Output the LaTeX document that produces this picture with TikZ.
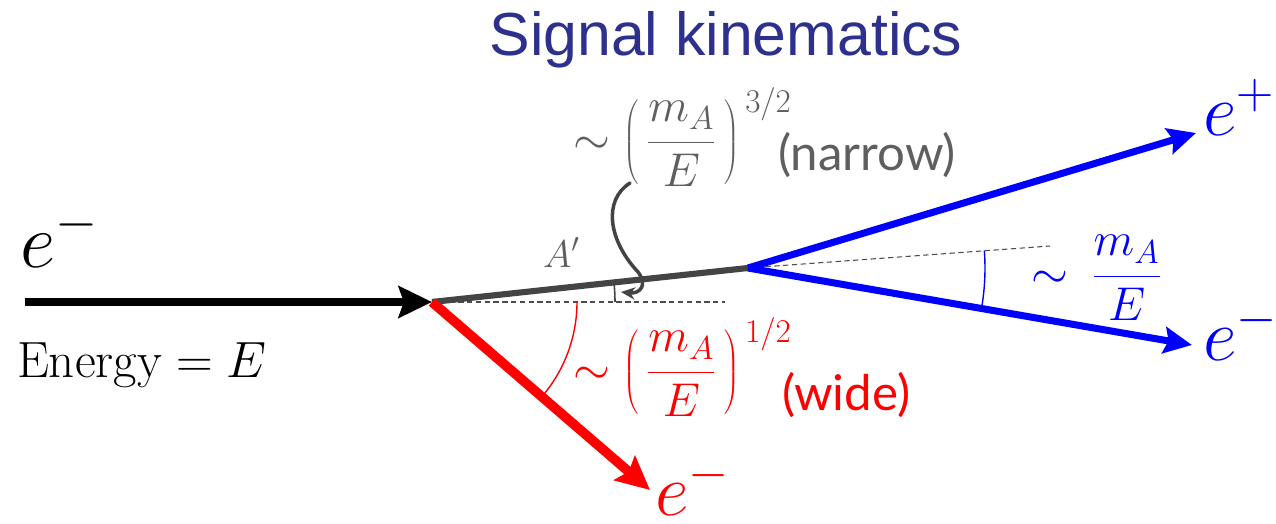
\RequirePackage{fix-cm}
\documentclass[tikz,border=0pt]{standalone}
\usepackage{fontspec}
\newfontfamily\titlefont{Liberation Sans}
\newfontfamily\labelfont{Lato}
\usetikzlibrary{arrows.meta}
\definecolor{titleblue}{RGB}{45,48,140}
\definecolor{txtgray}{RGB}{95,95,95}
\definecolor{linegray}{RGB}{68,68,68}
\tikzset{
  lbl/.style={inner sep=0pt, outer sep=0pt, anchor=base west},
  guide/.style={densely dashed, line width=0.6pt, black!70},
  bigarrow/.style={-{Stealth[length=19pt,width=18pt,inset=3pt]}},
  bluearrow/.style={-{Stealth[length=16pt,width=15pt,inset=2.5pt]}},
  fsize/.style={font=\fontsize{27}{30}\selectfont},
}
\begin{document}
\begin{tikzpicture}[x=0.02cm,y=-0.02cm]
\useasboundingbox (0,0) rectangle (1276,524);
\fill[white] (0,0) rectangle (1276,524);

% title
\node[lbl, anchor=base] (title) at (726,55) {\titlefont\fontsize{34.6}{40}\selectfont\color{titleblue}Signal kinematics};

% key points
\coordinate (src) at (25,302);
\coordinate (v) at (432,302);
\coordinate (d) at (748,268);
\coordinate (redtip) at (650,490);
\coordinate (uptip) at (1196,133);
\coordinate (lowtip) at (1192,345);
\coordinate (dashA) at (725,302);
\coordinate (dashB) at (1050,246);

% guide lines
\draw[guide] (v) -- (dashA);
\draw[guide] (d) -- (dashB);

% incoming electron
\draw[line width=5pt, bigarrow] (src) -- (v);
% A'
\draw[linegray, line width=3.5pt] (v) -- (d);
% recoil electron
\draw[red, line width=5.5pt, bigarrow] (v) -- (redtip);
% pair
\draw[blue, line width=4pt, bluearrow] (d) -- (uptip);
\draw[blue, line width=4pt, bluearrow] (d) -- (lowtip);

% angle arcs
\draw[red, line width=0.8pt] (v) ++(0:145) arc[start angle=0, end angle=41, radius=145];
\draw[linegray, line width=0.9pt] (v) ++(0:183) arc[start angle=0, end angle=-6.1, radius=183];
\draw[blue, line width=0.8pt] (d) ++(-4.2:237) arc[start angle=-4.2, end angle=9.9, radius=237];

% labels
\node[lbl] (ein) at (20,267) {\fontsize{44}{48}\selectfont $e^-$};
\node[lbl] (energy) at (17,377) {\fontsize{29}{32}\selectfont $\mathrm{Energy} = E$};
\node[lbl, text=txtgray] (aprime) at (543,267) {\fontsize{22}{26}\selectfont $A'$};

\node[lbl, text=txtgray, fsize] (narrowf) at (573,154) {$\displaystyle \sim\left(\,\frac{m_A}{E}\,\right)^{\,3/2}$};
\node[lbl, text=txtgray] (narrow) at (778,170) {\labelfont\fontsize{28}{32}\selectfont (narrow)};

\node[lbl, text=red, fsize] (widef) at (573,384) {$\displaystyle \sim\left(\,\frac{m_A}{E}\,\right)^{\,1/2}$};
\node[lbl, text=red] (wide) at (782,410) {\labelfont\fontsize{28}{32}\selectfont (wide)};

\node[lbl, text=blue, fsize] (openf) at (1031,288) {$\displaystyle \sim\:\frac{m_A}{E}$};

\node[lbl, text=red] (eout) at (655,515) {\fontsize{42}{46}\selectfont $e^-$};
\node[lbl, text=blue] (eplus) at (1203,135) {\fontsize{42}{46}\selectfont $e^+$};
\node[lbl, text=blue] (eminus) at (1203,360) {\fontsize{42}{46}\selectfont $e^-$};

% curly pointer from the narrow label to the A' opening angle
\coordinate (curlstart) at (630,183);
\coordinate (curlend) at (621,292);
\draw[linegray, line width=2pt, line cap=round, -{Stealth[length=8pt,width=7pt]}]
  (curlstart) .. controls (603,200) and (608,240) .. (638,272)
  .. controls (648,285) and (640,294) .. (curlend);
\end{tikzpicture}
\end{document}
